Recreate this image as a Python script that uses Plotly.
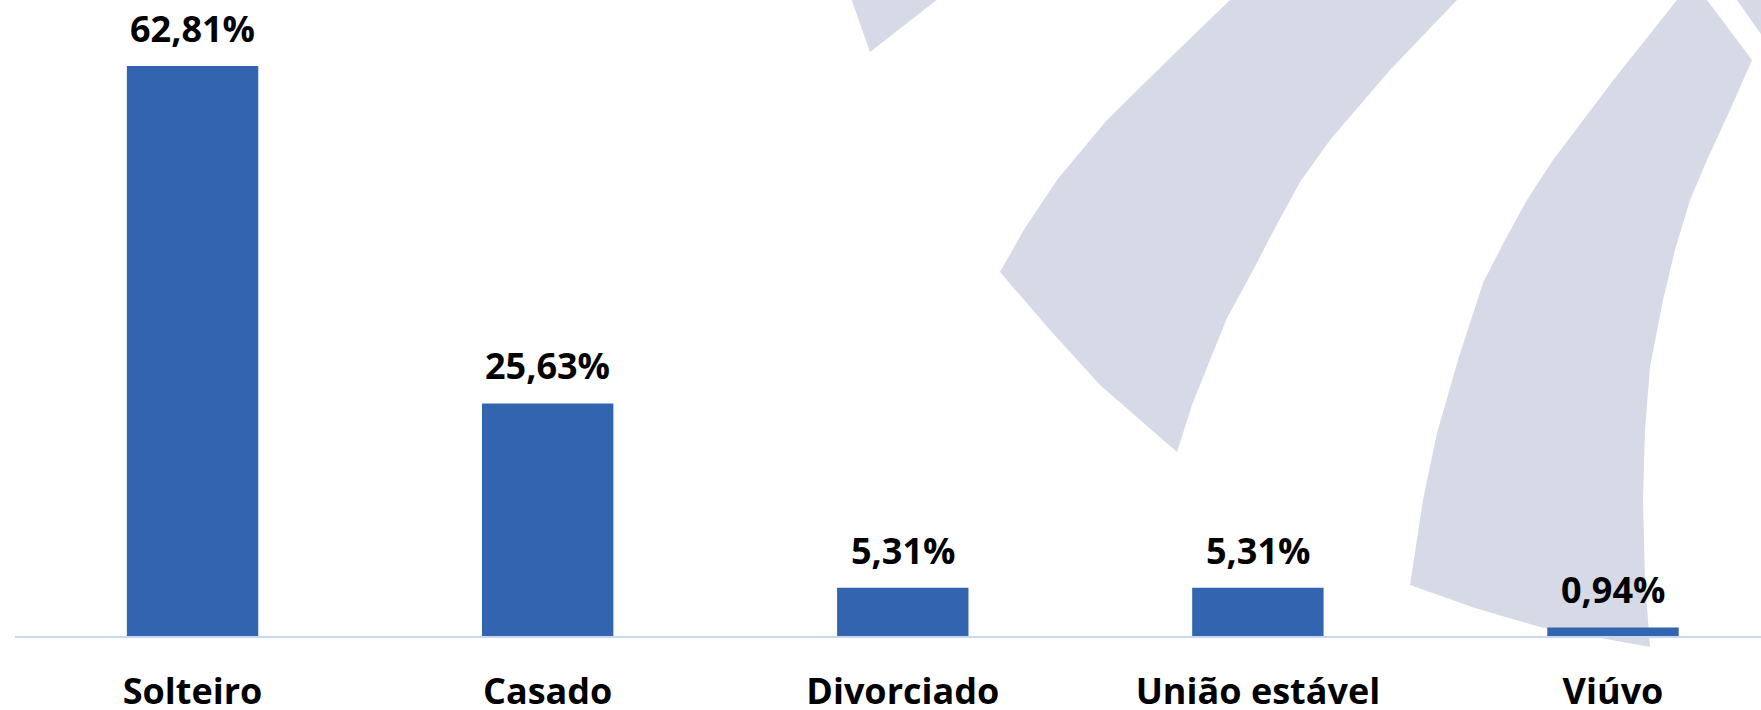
import plotly.graph_objects as go

# ---- data ----
categories = ["Solteiro", "Casado", "Divorciado", "União estável", "Viúvo"]
values = [62.81, 25.63, 5.31, 5.31, 0.94]
value_labels = [f"{v:.2f}".replace(".", ",") + "%" for v in values]

# ---- layout constants (pixels) ----
W, H = 1761, 710
PL, PR, PT, PB = 15, 0, 0, 74
plot_w = W - PL - PR
plot_h = H - PT - PB

BAR_COLOR = "#3364B0"
AXIS_COLOR = "#C9D6EF"
WM_COLOR = "#D6DAE7"
FONT = "Open Sans"


def to_paper(pts):
    return [((x - PL) / plot_w, (PT + plot_h - y) / plot_h) for x, y in pts]


def path_from(pts):
    p = to_paper(pts)
    s = "M {:.5f},{:.5f}".format(*p[0])
    for x, y in p[1:]:
        s += " L {:.5f},{:.5f}".format(x, y)
    return s + " Z"


# decorative watermark outlines (pixel coords of the picture)
wm1 = [(850, -5), (870, 52), (943, -5)]
wm2 = [(1234, -5), (1230, 0), (1170, 58), (1107, 120), (1057, 180), (1025, 228), (1000, 272),
       (1050, 330), (1100, 385), (1177, 452),
       (1192, 405), (1210, 360), (1227, 318), (1250, 276), (1275, 228), (1300, 182), (1330, 140),
       (1390, 70), (1457, 0), (1462, -5)]
wm3 = [(1681, -5), (1677, 0), (1615, 78), (1553, 160), (1527, 200), (1505, 240), (1483, 283),
       (1458, 360), (1437, 433), (1423, 500), (1410, 585),
       (1475, 608), (1540, 627), (1650, 647),
       (1645, 580), (1643, 500), (1645, 430), (1650, 367), (1663, 300), (1675, 250), (1690, 200),
       (1707, 160), (1730, 110), (1752, 60), (1707, 0), (1703, -5)]
wm4 = [(1733, -5), (1737, 0), (1765, 40), (1765, -5)]

shapes = [
    dict(type="path", xref="paper", yref="paper", path=path_from(p),
         fillcolor=WM_COLOR, line=dict(width=0), layer="below")
    for p in (wm1, wm2, wm3, wm4)
]

fig = go.Figure()
fig.add_trace(go.Bar(
    x=categories, y=values,
    marker=dict(color=BAR_COLOR, line=dict(width=0)),
    hoverinfo="skip",
))

annotations = [
    dict(x=c, y=v, xref="x", yref="y", text=t, showarrow=False,
         yanchor="bottom", xanchor="center", yshift=11,
         font=dict(family=FONT, size=36, color="black", weight="bold"))
    for c, v, t in zip(categories, values, value_labels)
]

y_top = 636 / (570 / 62.81)

fig.update_layout(
    width=W, height=H,
    margin=dict(l=PL, r=PR, t=PT, b=PB, pad=0),
    paper_bgcolor="white", plot_bgcolor="rgba(0,0,0,0)",
    bargap=0.63,
    showlegend=False,
    shapes=shapes,
    annotations=annotations,
    xaxis=dict(
        type="category",
        range=[-0.5, 4 + (W - PR - 1613) / 355.1],
        showline=True, linecolor=AXIS_COLOR, linewidth=2,
        showgrid=False, zeroline=False, ticks="",
        tickfont=dict(family=FONT, size=36, color="black", weight="bold"),
        ticklabelstandoff=23,
        automargin=False, fixedrange=True,
    ),
    yaxis=dict(
        range=[0, y_top], visible=False, showgrid=False, zeroline=False,
        automargin=False, fixedrange=True,
    ),
)

fig.write_html(
    "out.html",
    config={"displayModeBar": False},
    post_script="document.body.style.margin='0px';document.body.style.overflow='hidden';",
)
